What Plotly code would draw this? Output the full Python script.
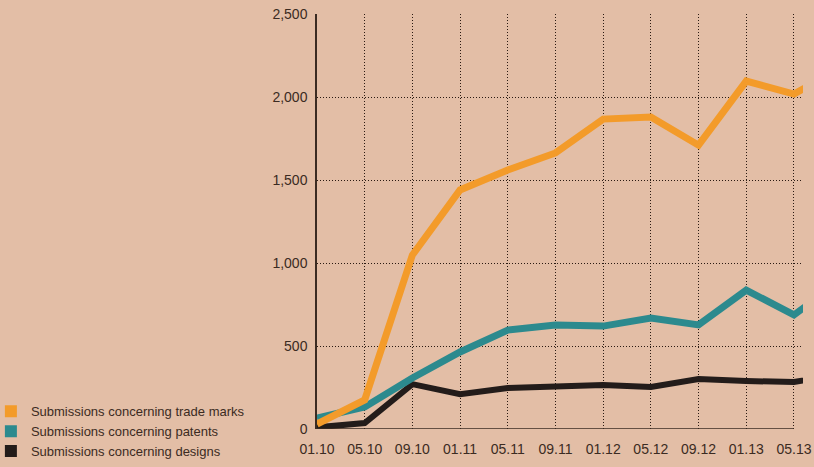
import plotly.graph_objects as go

periods = ["01.10", "05.10", "09.10", "01.11", "05.11", "09.11", "01.12", "05.12", "09.12", "01.13", "05.13", "09.13"]
trade_marks = [30, 175, 1048, 1440, 1560, 1663, 1867, 1880, 1710, 2096, 2018, 2180]
patents = [65, 133, 307, 464, 596, 626, 620, 669, 627, 837, 687, 900]
designs = [10, 36, 270, 210, 247, 259, 265, 253, 301, 289, 283, 330]
y_ticks = [0, 500, 1000, 1500, 2000, 2500]

names = ["Submissions concerning trade marks", "Submissions concerning patents", "Submissions concerning designs"]
colors = ["#f39b2a", "#2c8a8e", "#231c1a"]
widths = [7, 7, 6]
series = [trade_marks, patents, designs]

BG = "#e3bea6"
INK = "#3b2b22"

xs = list(range(len(periods)))
fig = go.Figure()
for vals, c, w in zip(series[::-1], colors[::-1], widths[::-1]):
    fig.add_trace(go.Scatter(x=xs, y=vals, mode="lines", line=dict(color=c, width=w),
                             showlegend=False, hoverinfo="skip"))
for n, c in zip(names, colors):
    fig.add_trace(go.Scatter(x=[None], y=[None], mode="markers", name=n,
                             marker=dict(symbol="square", size=14, color=c)))

last = len(periods) - 2
fig.add_shape(type="line", xref="x", yref="y", x0=0, x1=last, y0=0, y1=0,
              line=dict(color=INK, width=1.5))

fig.update_layout(
    width=814, height=467,
    margin=dict(l=317, r=11, t=14, b=38, autoexpand=False),
    paper_bgcolor=BG, plot_bgcolor=BG,
    font=dict(family="Liberation Sans", size=14, color=INK),
    legend=dict(x=-0.671, y=-0.09, xanchor="left", yanchor="bottom",
                font=dict(size=13, color=INK), bgcolor="rgba(0,0,0,0)",
                tracegroupgap=0, itemsizing="constant"),
    xaxis=dict(range=[0, last + 0.19], tickvals=xs[:-1], ticktext=periods[:-1],
               showgrid=True, gridcolor="#2a1a12", griddash="1px,2px", gridwidth=1,
               zeroline=False, showline=False, ticks="outside", ticklen=7,
               tickcolor="rgba(0,0,0,0)", fixedrange=True),
    yaxis=dict(range=[0, 2500], tickvals=y_ticks, tickformat=",d",
               showgrid=True, gridcolor="#2a1a12", griddash="1px,2px", gridwidth=1,
               zeroline=False, showline=True, linecolor=INK, linewidth=1.5,
               ticks="outside", ticklen=5, tickcolor="rgba(0,0,0,0)", fixedrange=True),
)
fig.write_html("out.html",
               post_script="document.body.style.margin='0';document.body.style.background='%s';" % BG,
               config={"displayModeBar": False})
